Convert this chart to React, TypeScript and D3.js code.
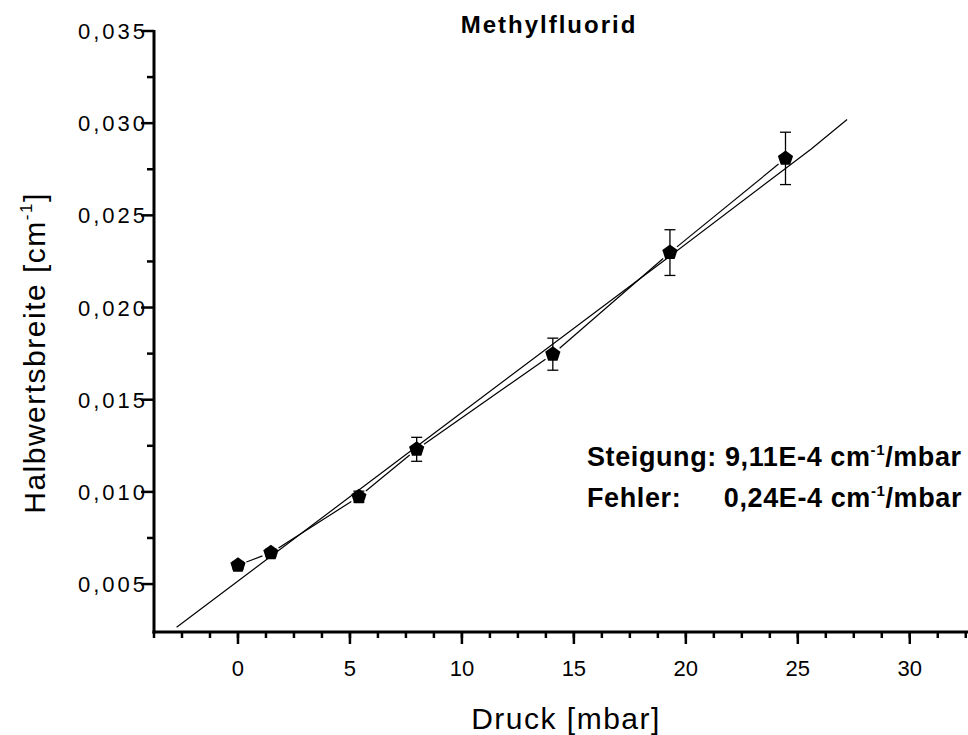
import React from "react";
import * as d3 from "d3";

const pressure = [0, 1.47, 5.4, 7.98, 14.06, 19.29, 24.45];
const halfWidth = [0.00602, 0.0067, 0.00974, 0.01231, 0.01747, 0.02298, 0.02809];
const halfWidthErr = [0.0002, 0.0002, 0.0003, 0.00065, 0.00087, 0.00124, 0.00142];
const fitX = [-2.74, 8.57, 19.3, 25.6, 27.2];
const fitY = [0.00266, 0.013, 0.0228, 0.0286, 0.0302];
const xTicks = [0, 5, 10, 15, 20, 25, 30];
const xTickLabels = ["0", "5", "10", "15", "20", "25", "30"];
const yTicks = [0.005, 0.01, 0.015, 0.02, 0.025, 0.03, 0.035];
const yTickLabels = ["0,005", "0,010", "0,015", "0,020", "0,025", "0,030", "0,035"];
const xMinor = d3.range(-3.75, 32.6, 1.25);
const yMinor = [0.0075, 0.0125, 0.0175, 0.0225, 0.0275, 0.0325];

const W = 968;
const H = 735;
const FONT = "'Liberation Sans', Arial, sans-serif";

export default function App() {
  const x = d3.scaleLinear().domain([-3.75, 32.6]).range([154, 968]);
  const y = d3.scaleLinear().domain([0.0024, 0.035]).range([632, 31]);
  const axisY = 632;
  const axisX = 154;

  const fitLine = d3
    .line<number>()
    .x((_, i) => x(fitX[i]))
    .y((_, i) => y(fitY[i]))(fitX as any);

  const pts = pressure.map((p, i) => [x(p), y(halfWidth[i])]);
  const gap = 9;
  const segs = [] as { x1: number; y1: number; x2: number; y2: number }[];
  for (let i = 0; i < pts.length - 1; i++) {
    const [ax, ay] = pts[i];
    const [bx, by] = pts[i + 1];
    const len = Math.hypot(bx - ax, by - ay);
    if (len <= 2 * gap) continue;
    const ux = (bx - ax) / len;
    const uy = (by - ay) / len;
    segs.push({ x1: ax + ux * gap, y1: ay + uy * gap, x2: bx - ux * gap, y2: by - uy * gap });
  }

  const r = 8;
  const pent = d3.range(5).map((k) => {
    const a = -Math.PI / 2 + (k * 2 * Math.PI) / 5;
    return [r * Math.cos(a), r * Math.sin(a)];
  });
  const pentPath = "M" + pent.map((p) => p.join(",")).join("L") + "Z";

  return (
    <svg
      width={W}
      height={H}
      style={{ position: "absolute", left: 0, top: 0, background: "#fff" }}
      fontFamily={FONT}
    >
      <rect x={0} y={0} width={W} height={H} fill="#fff" />
      {/* fit line */}
      <path d={fitLine || ""} fill="none" stroke="#000" strokeWidth={1.2} />
      {/* connecting segments */}
      {segs.map((s, i) => (
        <line key={"s" + i} x1={s.x1} y1={s.y1} x2={s.x2} y2={s.y2} stroke="#000" strokeWidth={1.2} />
      ))}
      {/* error bars */}
      {pressure.map((p, i) => {
        const cx = x(p);
        const t = y(halfWidth[i] + halfWidthErr[i]);
        const b = y(halfWidth[i] - halfWidthErr[i]);
        return (
          <g key={"e" + i} stroke="#000" strokeWidth={1.3}>
            <line x1={cx} x2={cx} y1={t} y2={b} />
            <line x1={cx - 5.5} x2={cx + 5.5} y1={t} y2={t} />
            <line x1={cx - 5.5} x2={cx + 5.5} y1={b} y2={b} />
          </g>
        );
      })}
      {/* markers */}
      {pts.map(([px, py], i) => (
        <path key={"m" + i} d={pentPath} transform={`translate(${px},${py})`} fill="#000" />
      ))}

      {/* axes */}
      <line x1={axisX} x2={axisX} y1={30} y2={axisY + 1.5} stroke="#000" strokeWidth={3} />
      <line x1={axisX - 1.5} x2={W} y1={axisY} y2={axisY} stroke="#000" strokeWidth={3} />
      {xMinor.map((v, i) => (
        <line key={"xm" + i} x1={x(v)} x2={x(v)} y1={axisY} y2={axisY + 6} stroke="#000" strokeWidth={2.5} />
      ))}
      {xTicks.map((v, i) => (
        <g key={"xt" + i}>
          <line x1={x(v)} x2={x(v)} y1={axisY} y2={axisY + 12} stroke="#000" strokeWidth={2.5} />
          <text x={x(v)} y={676} textAnchor="middle" fontSize={22}>
            {xTickLabels[i]}
          </text>
        </g>
      ))}
      {yMinor.map((v, i) => (
        <line key={"ym" + i} x1={axisX - 7} x2={axisX} y1={y(v)} y2={y(v)} stroke="#000" strokeWidth={2.5} />
      ))}
      {yTicks.map((v, i) => (
        <g key={"yt" + i}>
          <line x1={axisX - 13} x2={axisX} y1={y(v)} y2={y(v)} stroke="#000" strokeWidth={2.5} />
          <text x={148} y={y(v) + 8} textAnchor="end" fontSize={22} letterSpacing={3}>
            {yTickLabels[i]}
          </text>
        </g>
      ))}

      {/* axis titles */}
      <text x={566} y={729} textAnchor="middle" fontSize={30} letterSpacing={1.5}>
        Druck [mbar]
      </text>
      <text transform="translate(45,353) rotate(-90)" textAnchor="middle" fontSize={30} letterSpacing={1.5}>
        Halbwertsbreite [cm
        <tspan fontSize={17} dy={-13}>-1</tspan>
        <tspan dy={13}>]</tspan>
      </text>

      {/* title */}
      <text x={549} y={33} textAnchor="middle" fontSize={24} fontWeight="bold" letterSpacing={2}>
        Methylfluorid
      </text>

      {/* annotation */}
      <text x={587} y={466} fontSize={27} fontWeight="bold" letterSpacing={0.6}>
        Steigung: 9,11E-4 cm<tspan fontSize={15} dy={-11}>-1</tspan>
        <tspan dy={11}>/mbar</tspan>
      </text>
      <text x={587} y={507} fontSize={27} fontWeight="bold" letterSpacing={0.6}>
        Fehler:
      </text>
      <text x={962} y={507} fontSize={27} fontWeight="bold" textAnchor="end" letterSpacing={0.6}>
        0,24E-4 cm<tspan fontSize={15} dy={-11}>-1</tspan>
        <tspan dy={11}>/mbar</tspan>
      </text>
    </svg>
  );
}
